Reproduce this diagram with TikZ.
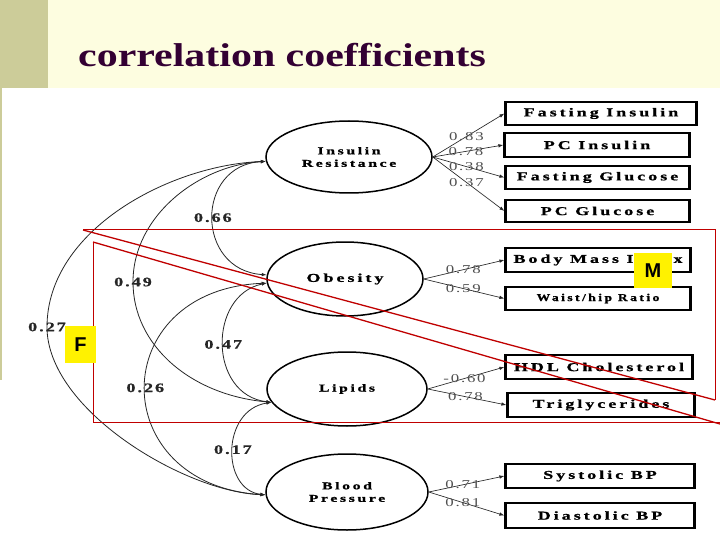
\documentclass[tikz,border=0pt]{standalone}
\usepackage{fontspec}
\setmainfont{Liberation Serif}
\usetikzlibrary{shapes.geometric,arrows.meta}
\newfontfamily\titlefont{Liberation Serif}[FakeStretch=1.27]
\newfontfamily\boxfont{Liberation Serif}[FakeStretch=1.5,LetterSpace=25,FakeBold=1]
\newfontfamily\whrfont{Liberation Serif}[FakeStretch=1.3,LetterSpace=23,FakeBold=1]
\newfontfamily\numfont{Liberation Serif}[FakeStretch=1.4,LetterSpace=15]
\newfontfamily\cvnumfont{Liberation Serif}[FakeStretch=1.4,LetterSpace=15,FakeBold=0.6]
\newfontfamily\markfont{Liberation Sans}
\definecolor{band}{HTML}{FDFDE0}
\definecolor{olive}{HTML}{CCCC99}
\definecolor{titlec}{HTML}{330033}
\definecolor{redl}{HTML}{C00000}
\definecolor{numc}{HTML}{505050}
\begin{document}
\begin{tikzpicture}[x=1pt,y=-1pt,
  latent/.style={ellipse, draw, line width=1.5pt, inner sep=0pt, align=center,
    font=\boxfont\bfseries\fontsize{10.5}{12.5}\selectfont},
  obsbox/.style={rectangle, draw, line width=1.2pt, inner sep=0pt,
    font=\boxfont\bfseries\fontsize{12}{13}\selectfont,
    path picture={\draw[line width=3.5pt]
      (path picture bounding box.north west) -- (path picture bounding box.south west)
      (path picture bounding box.north east) -- (path picture bounding box.south east);}},
  load/.style={draw=black!85, line width=0.65pt, -{Latex[length=5pt,width=3.5pt]}},
  cov/.style={draw=black!85, line width=0.8pt,
    {Latex[length=5pt,width=3.5pt]}-{Latex[length=5pt,width=3.5pt]}},
  ldl/.style={font=\numfont\fontsize{12}{12}\selectfont, text=numc, inner sep=0pt},
  cvl/.style={font=\cvnumfont\bfseries\fontsize{13}{13}\selectfont, text=black!85, inner sep=0pt},
  redline/.style={draw=redl, line width=1pt},
  marker/.style={fill=yellow, inner sep=0pt, font=\markfont\bfseries\fontsize{20}{20}\selectfont}
]
\useasboundingbox (0,0) rectangle (720,540);
\fill[white] (0,0) rectangle (720,540);
\fill[band] (48,0) rectangle (720,88);
\fill[olive] (0,0) rectangle (48,88);
\fill[olive] (0,88) rectangle (1.5,380);
\node[anchor=base west, inner sep=0pt, text=titlec,
  font=\titlefont\bfseries\fontsize{33}{33}\selectfont] (title) at (78,67) {correlation coefficients};

% latent variables
\node[latent, minimum width=166pt, minimum height=72pt] (ir) at (349,157) {Insulin\\Resistance};
\node[latent, minimum width=156pt, minimum height=74pt, font=\boxfont\bfseries\fontsize{12}{13}\selectfont] (ob) at (345,279) {Obesity};
\node[latent, minimum width=160pt, minimum height=74pt] (lp) at (347,389) {Lipids};
\node[latent, minimum width=162pt, minimum height=76pt] (bp) at (347,492) {Blood\\Pressure};

% observed variables
\node[obsbox, minimum width=192pt, minimum height=23pt] (fi) at (601,113.5) {Fasting Insulin};
\node[obsbox, minimum width=186pt, minimum height=24pt] (pci) at (597,145) {PC Insulin};
\node[obsbox, minimum width=185pt, minimum height=23pt] (fg) at (597.5,177.5) {Fasting Glucose};
\node[obsbox, minimum width=185pt, minimum height=22pt] (pcg) at (597.5,211) {PC Glucose};
\node[obsbox, minimum width=186pt, minimum height=24pt] (bmi) at (598,260) {Body Mass Index};
\node[obsbox, minimum width=186pt, minimum height=23pt, font=\whrfont\bfseries\fontsize{10.5}{12}\selectfont] (whr) at (598,298.5) {Waist/hip Ratio};
\node[obsbox, minimum width=188pt, minimum height=24pt] (hdl) at (599,367) {HDL Cholesterol};
\node[obsbox, minimum width=188pt, minimum height=24pt] (tg) at (601,405) {Triglycerides};
\node[obsbox, minimum width=190pt, minimum height=24pt] (sbp) at (600,476) {Systolic BP};
\node[obsbox, minimum width=190pt, minimum height=25pt] (dbp) at (600,515.5) {Diastolic BP};

% loadings
\draw[load] (ir.east) -- node[ldl, pos=0.47] {0.83} (fi.west);
\draw[load] (ir.east) -- node[ldl, pos=0.47] {0.78} (pci.west);
\draw[load] (ir.east) -- node[ldl, pos=0.47] {0.38} (fg.west);
\draw[load] (ir.east) -- node[ldl, pos=0.47] {0.37} (pcg.west);
\draw[load] (ob.east) -- node[ldl, pos=0.49] {0.78} (bmi.west);
\draw[load] (ob.east) -- node[ldl, pos=0.49] {0.59} (whr.west);
\draw[load] (lp.east) -- node[ldl, pos=0.48] {-0.60} (hdl.west);
\draw[load] (lp.east) -- node[ldl, pos=0.48] {0.78} (tg.west);
\draw[load] (bp.east) -- node[ldl, pos=0.45] {0.71} (sbp.west);
\draw[load] (bp.east) -- node[ldl, pos=0.45] {0.81} (dbp.west);

% correlations between latent variables
\draw[cov] (ir.183) .. controls (195,165) and (195,270) .. node[cvl] {0.66} (ob.177);
\draw[cov] (ir.183) .. controls (200,165) and (133,215) .. (133,282) node[cvl] {0.49}
  .. controls (133,345) and (190,395) .. (lp.190);
\draw[cov] (ir.183) .. controls (170,165) and (47,230) .. (47,327) node[cvl] {0.27}
  .. controls (47,410) and (185,492) .. (bp.182);
\draw[cov] (ob.183) .. controls (208,295) and (208,395) .. node[cvl] {0.47} (lp.190);
\draw[cov] (ob.183) .. controls (105,290) and (105,485) .. node[cvl] {0.26} (bp.182);
\draw[cov] (lp.190) .. controls (221,410) and (221,490) .. node[cvl] {0.17} (bp.182);

% red annotation
\coordinate (rA) at (83,230);
\coordinate (rB) at (93,242);
\draw[redline] (rA) -- (715,230) -- (715,400);
\draw[redline] (rB) -- (93,422) -- (720,422);
\draw[redline, line width=1.3pt] (rA) -- (715,400);
\draw[redline, line width=1.3pt] (rB) -- (720,424);

% markers
\node[marker, minimum width=38pt, minimum height=35pt] (M) at (653,270.5) {M};
\node[marker, minimum width=31pt, minimum height=37pt] (F) at (80.5,344.5) {F};
\end{tikzpicture}
\end{document}
